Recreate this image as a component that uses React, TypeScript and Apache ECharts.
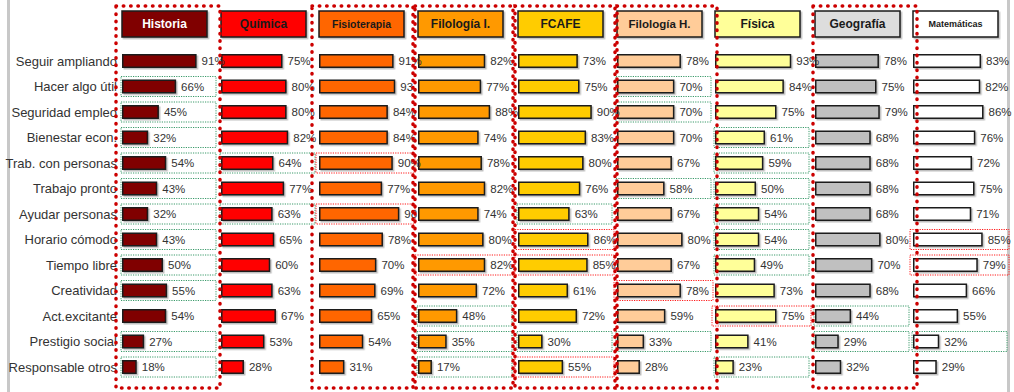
import React, { useEffect, useRef } from "react";
import * as echarts from "echarts";

const rowLabels = [
  "Seguir ampliando",
  "Hacer algo útil",
  "Seguridad empleo",
  "Bienestar econ.",
  "Trab. con personas",
  "Trabajo pronto",
  "Ayudar personas",
  "Horario cómodo",
  "Tiempo libre",
  "Creatividad",
  "Act.excitante",
  "Prestigio social",
  "Responsable otros",
];

const columns = ["Historia", "Química", "Fisioterapia", "Filología I.", "FCAFE", "Filología H.", "Física", "Geografía", "Matemáticas"];

const historia = [91, 66, 45, 32, 54, 43, 32, 43, 50, 55, 54, 27, 18];
const quimica = [75, 80, 80, 82, 64, 77, 63, 65, 60, 63, 67, 53, 28];
const fisioterapia = [91, 93, 84, 84, 90, 77, 98, 78, 70, 69, 65, 54, 31];
const filologiaI = [82, 77, 88, 74, 78, 82, 74, 80, 82, 72, 48, 35, 17];
const fcafe = [73, 75, 90, 83, 80, 76, 63, 86, 85, 61, 72, 30, 55];
const filologiaH = [78, 70, 70, 70, 67, 58, 67, 80, 67, 78, 59, 33, 28];
const fisica = [93, 84, 75, 61, 59, 50, 54, 54, 49, 73, 75, 41, 23];
const geografia = [78, 75, 79, 68, 68, 68, 68, 80, 70, 68, 44, 29, 32];
const matematicas = [83, 82, 86, 76, 72, 75, 71, 85, 79, 66, 55, 32, 29];

const values = [historia, quimica, fisioterapia, filologiaI, fcafe, filologiaH, fisica, geografia, matematicas];

// rows highlighted with a thin green / red dotted frame, per column
const greenCells = [[1, 2, 3, 4, 5, 6, 7, 8, 9, 11, 12], [4, 6], [], [10, 11, 12], [6, 11], [1, 2, 5, 11], [3, 4, 5, 6, 7, 8, 12], [10, 11], [11]];
const redCells = [[], [], [4, 6], [8], [7, 8, 12], [9], [10], [], [7, 8]];

// styling
const barColors = ["#800000", "#ff0000", "#ff6600", "#ff9900", "#ffcc00", "#ffcc99", "#ffff99", "#c0c0c0", "#ffffff"];
const headerFills = ["#800000", "#ff0000", "#ff6600", "#ff9900", "#ffcc00", "#ffcc99", "#ffff99", "#dddddd", "#ffffff"];
const headerTextColors = ["#ffffff", "#1a1a1a", "#1a1a1a", "#1a1a1a", "#1a1a1a", "#1a1a1a", "#1a1a1a", "#1a1a1a", "#1a1a1a"];
const headerFontSizes = [12, 12, 10.5, 12, 12, 11.5, 12, 12, 9];

// layout
const colLeft = [122, 221, 319, 418, 518, 617, 715, 815, 913];
const COL_W = 82;
const GRID_TOP = 48.25;
const GRID_H = 331.5;
const FONT = "'Liberation Sans', Arial, sans-serif";
const dottedBoxes = [[116, 220], [312, 413], [415, 513], [515, 615], [617, 717], [813, 917]];

export default function App() {
  const ref = useRef<HTMLDivElement>(null);

  useEffect(() => {
    if (!ref.current) return;
    const chart = echarts.init(ref.current, null, { renderer: "svg" });

    const grids: any[] = [];
    const xAxes: any[] = [];
    const yAxes: any[] = [];
    const series: any[] = [];

    columns.forEach((name, i) => {
      grids.push({ left: colLeft[i], top: GRID_TOP, width: COL_W, height: GRID_H, containLabel: false });
      xAxes.push({ type: "value", gridIndex: i, min: 0, max: 100, show: false });
      yAxes.push({
        type: "category",
        gridIndex: i,
        data: rowLabels,
        inverse: true,
        axisLine: { show: false },
        axisTick: { show: false },
        axisLabel: {
          show: i === 0,
          fontSize: 13,
          color: "#333",
          fontFamily: FONT,
          margin: 5,
        },
        splitLine: { show: false },
      });
      const clipX = i < columns.length - 1 ? colLeft[i + 1] + 5 : 1014;
      series.push({
        type: "bar",
        name,
        xAxisIndex: i,
        yAxisIndex: i,
        barWidth: 14,
        z: 3,
        itemStyle: {
          color: barColors[i],
          borderColor: "#1a1a1a",
          borderWidth: 1.5,
          shadowColor: "rgba(0,0,0,0.25)",
          shadowOffsetX: 1.5,
          shadowOffsetY: 1.5,
          shadowBlur: 1,
        },
        label: {
          show: true,
          position: "right",
          distance: 5,
          formatter: "{c}%",
          fontSize: 11.5,
          color: "#333",
          fontFamily: FONT,
        },
        data: values[i].map((v) => {
          const start = colLeft[i] + (v / 100) * COL_W + 5;
          if (start + 23 > clipX) {
            return { value: v, label: { width: Math.max(1, clipX - start), overflow: "truncate", ellipsis: "" } };
          }
          return { value: v };
        }),
      });
      const marks = [
        ...greenCells[i].map((r) => [0, r, 0]),
        ...redCells[i].map((r) => [0, r, 1]),
      ];
      series.push({
        type: "custom",
        xAxisIndex: i,
        yAxisIndex: i,
        z: 1,
        clip: false,
        silent: true,
        encode: { x: 0, y: 1 },
        data: marks,
        renderItem: (params: any, api: any) => {
          const row = api.value(1);
          const red = api.value(2) === 1;
          const p = api.coord([0, row]);
          return {
            type: "rect",
            shape: {
              x: p[0] + (red ? -3 : -1),
              y: p[1] - 10,
              width: red ? 99 : 95,
              height: 20,
            },
            style: {
              fill: "none",
              stroke: red ? "#ff1a1a" : "#3a9a6a",
              lineWidth: 1,
              lineDash: [1.2, 1.2],
            },
          };
        },
      });
    });

    const graphic: any[] = [];
    // gray side rules
    graphic.push({ type: "rect", shape: { x: 7, y: 0, width: 3, height: 392 }, style: { fill: "#c8c8c8" }, z: 0 });
    graphic.push({ type: "rect", shape: { x: 1007, y: 0, width: 3, height: 392 }, style: { fill: "#c8c8c8" }, z: 0 });
    // headers
    columns.forEach((name, i) => {
      graphic.push({
        type: "rect",
        shape: { x: colLeft[i], y: 11, width: 85, height: 26 },
        style: {
          fill: headerFills[i],
          stroke: "#1a1a1a",
          lineWidth: 1.5,
          shadowColor: "rgba(0,0,0,0.25)",
          shadowOffsetX: 1.5,
          shadowOffsetY: 1.5,
          shadowBlur: 1,
        },
        z: 5,
      });
      graphic.push({
        type: "text",
        x: colLeft[i] + 42.5,
        y: 24,
        style: {
          text: name,
          fill: headerTextColors[i],
          font: `bold ${headerFontSizes[i]}px ${FONT}`,
          align: "center",
          verticalAlign: "middle",
        },
        z: 6,
      });
    });
    // big red dotted frames
    dottedBoxes.forEach(([x0, x1]) => {
      graphic.push({
        type: "rect",
        shape: { x: x0, y: 6, width: x1 - x0, height: 382 },
        style: {
          fill: "none",
          stroke: "#cc0000",
          lineWidth: 3.5,
          lineDash: [0.5, 6.8],
          lineCap: "round",
        },
        z: 100,
        silent: true,
      });
    });

    chart.setOption({
      animation: false,
      backgroundColor: "#ffffff",
      grid: grids,
      xAxis: xAxes,
      yAxis: yAxes,
      series,
      graphic,
    });

    return () => chart.dispose();
  }, []);

  return (
    <div
      ref={ref}
      style={{ position: "fixed", left: 0, top: 0, width: 1014, height: 392 }}
    />
  );
}
